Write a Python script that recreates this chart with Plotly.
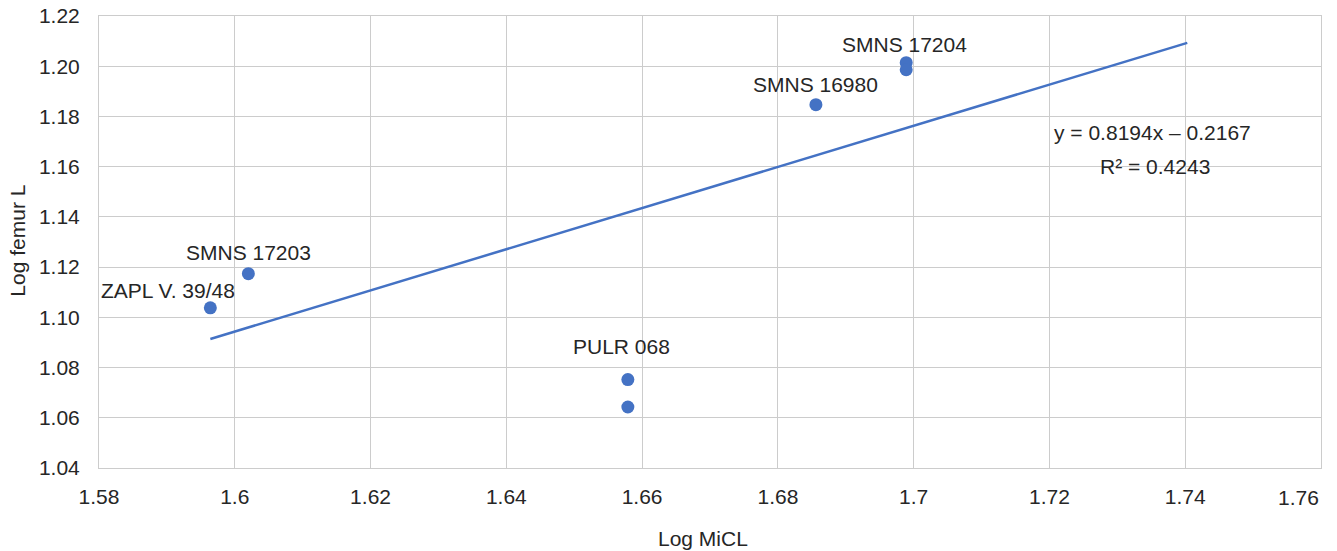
import plotly.graph_objects as go

# Data
log_micl = [1.5964, 1.6020, 1.6579, 1.6579, 1.6856, 1.6989, 1.6989]
log_femur = [1.1038, 1.1174, 1.0752, 1.0643, 1.1847, 1.2014, 1.1986]

labels = ["ZAPL V. 39/48", "SMNS 17203", "PULR 068", None, "SMNS 16980", "SMNS 17204", None]
label_shift_x = [-42, 0, -6, 0, 0, -2, 0]
label_shift_y = [17, 21, 33, 0, 20, 18, 0]

slope = 0.8194
intercept = -0.2167
r2 = 0.4243
trend_x = [1.5964, 1.7403]
trend_y = [slope * v + intercept for v in trend_x]

x_ticks = [1.58, 1.6, 1.62, 1.64, 1.66, 1.68, 1.7, 1.72, 1.74, 1.76]
x_tick_text = ["1.58", "1.6", "1.62", "1.64", "1.66", "1.68", "1.7", "1.72", "1.74", "1.76"]
y_ticks = [1.04, 1.06, 1.08, 1.10, 1.12, 1.14, 1.16, 1.18, 1.20, 1.22]
y_tick_text = ["%.2f" % v for v in y_ticks]

BLUE = "#4472C4"
TEXT = "#262626"
GRID = "#cccccc"
FONT = "Liberation Sans, Arial, sans-serif"
FS = 21

fig = go.Figure()
fig.add_trace(go.Scatter(x=trend_x, y=trend_y, mode="lines",
                         line=dict(color=BLUE, width=2.5), showlegend=False, hoverinfo="skip"))
fig.add_trace(go.Scatter(x=log_micl, y=log_femur, mode="markers",
                         marker=dict(color=BLUE, size=13), showlegend=False))

for x, y, t, dx, dy in zip(log_micl, log_femur, labels, label_shift_x, label_shift_y):
    if t:
        fig.add_annotation(x=x, y=y, text=t, showarrow=False, xshift=dx, yshift=dy,
                           font=dict(size=FS, color=TEXT, family=FONT))

fig.add_annotation(x=1.7352, y=1.1735, text="y = %.4fx \u2013 %.4f" % (slope, -intercept),
                   showarrow=False, font=dict(size=FS, color=TEXT, family=FONT))
fig.add_annotation(x=1.7356, y=1.160, text="R\u00b2 = %.4f" % r2,
                   showarrow=False, font=dict(size=FS, color=TEXT, family=FONT))

# last x tick label is right-aligned to its gridline (as in the reference)
fig.add_annotation(xref="x", yref="paper", x=x_ticks[-1], y=0, xanchor="right",
                   yanchor="middle", yshift=-29.5, text=x_tick_text[-1], showarrow=False,
                   font=dict(size=FS, color=TEXT, family=FONT))

# axis titles
fig.add_annotation(xref="paper", yref="paper", x=0.494, y=0, yanchor="middle", yshift=-70,
                   text="Log MiCL", showarrow=False, font=dict(size=FS, color=TEXT, family=FONT))
fig.add_annotation(xref="paper", yref="paper", x=0, y=0.503, xanchor="center", xshift=-81,
                   text="Log femur L", textangle=-90, showarrow=False,
                   font=dict(size=FS, color=TEXT, family=FONT))

fig.update_layout(
    width=1337, height=551,
    margin=dict(l=99, r=16, t=16, b=83),
    paper_bgcolor="white", plot_bgcolor="white",
    font=dict(family=FONT, size=FS, color=TEXT),
    xaxis=dict(range=[1.58 - 1e-7, 1.76 + 1e-7], tickvals=x_ticks[:-1], ticktext=x_tick_text[:-1],
               showgrid=True, gridcolor=GRID, gridwidth=1, zeroline=False,
               showline=True, linecolor=GRID, mirror=True,
               ticks="outside", ticklen=10, tickcolor="rgba(0,0,0,0)",
               automargin=False),
    yaxis=dict(range=[1.04 - 1e-7, 1.22 + 1e-7], tickvals=y_ticks, ticktext=y_tick_text,
               showgrid=True, gridcolor=GRID, gridwidth=1, zeroline=False,
               showline=True, linecolor=GRID, mirror=True,
               ticks="outside", ticklen=14, tickcolor="rgba(0,0,0,0)",
               automargin=False),
)

fig.write_html("out.html")
